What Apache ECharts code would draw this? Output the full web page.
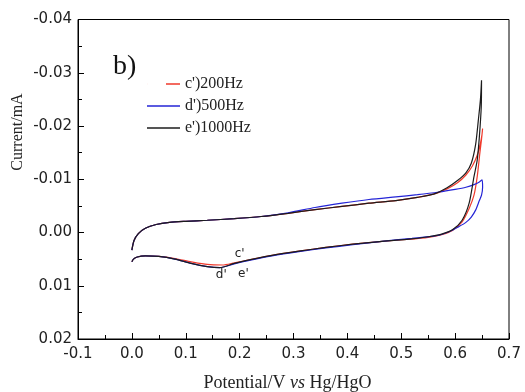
<!DOCTYPE html>
<html>
<head>
<meta charset="utf-8">
<script src="https://cdn.jsdelivr.net/npm/echarts@6/dist/echarts.min.js"></script>
<style>html,body{margin:0;padding:0;background:#fff}#c{width:525px;height:392px}</style>
</head>
<body>
<div id="c"></div>
<script>
// Potential (V vs Hg/HgO) and current (mA) for each frequency
const seriesNames = ["c')200Hz", "d')500Hz", "e')1000Hz"];

const xC = [0, 0.004, 0.012, 0.025, 0.045, 0.07, 0.1, 0.14, 0.19, 0.24, 0.29, 0.34, 0.39, 0.44, 0.49, 0.53, 0.56, 0.585, 0.605, 0.62, 0.632, 0.641, 0.647, 0.65, 0.651, 0.649, 0.646, 0.641, 0.635, 0.626, 0.613, 0.595, 0.575, 0.55, 0.51, 0.46, 0.41, 0.36, 0.31, 0.26, 0.22, 0.19, 0.168, 0.14, 0.11, 0.08, 0.05, 0.025, 0.01, 0.003, 0];
const yC = [0.0033, 0.0015, 0.0002, -0.0008, -0.0015, -0.0019, -0.0021, -0.0023, -0.0026, -0.003, -0.0036, -0.0043, -0.0049, -0.0055, -0.006, -0.0066, -0.0072, -0.0082, -0.0094, -0.0108, -0.0125, -0.0145, -0.0168, -0.0185, -0.0195, -0.0175, -0.015, -0.0105, -0.007, -0.0045, -0.002, -0.0004, 0.0004, 0.0009, 0.0013, 0.0017, 0.0022, 0.0028, 0.0035, 0.0043, 0.0051, 0.0057, 0.0061, 0.006, 0.0055, 0.0049, 0.0045, 0.0044, 0.0046, 0.005, 0.0055];

const xD = [0, 0.004, 0.012, 0.025, 0.045, 0.07, 0.1, 0.14, 0.19, 0.24, 0.29, 0.34, 0.39, 0.44, 0.49, 0.53, 0.57, 0.6, 0.62, 0.635, 0.645, 0.65, 0.651, 0.649, 0.645, 0.638, 0.63, 0.62, 0.607, 0.59, 0.565, 0.52, 0.46, 0.41, 0.36, 0.31, 0.26, 0.22, 0.19, 0.163, 0.14, 0.11, 0.08, 0.05, 0.025, 0.01, 0.003, 0];
const yD = [0.0033, 0.0015, 0.0002, -0.0008, -0.0015, -0.0019, -0.0021, -0.0023, -0.0026, -0.003, -0.0037, -0.0047, -0.0055, -0.0062, -0.0067, -0.0071, -0.0076, -0.0081, -0.0085, -0.009, -0.0095, -0.0099, -0.0085, -0.007, -0.006, -0.0042, -0.0029, -0.0019, -0.0011, -0.0002, 0.0006, 0.0011, 0.0017, 0.0023, 0.0029, 0.0036, 0.0044, 0.0052, 0.0059, 0.0066, 0.0064, 0.0058, 0.005, 0.0045, 0.0044, 0.0046, 0.005, 0.0055];

const xE = [0, 0.004, 0.012, 0.025, 0.045, 0.07, 0.1, 0.14, 0.19, 0.24, 0.29, 0.34, 0.39, 0.44, 0.49, 0.53, 0.56, 0.585, 0.605, 0.62, 0.63, 0.638, 0.643, 0.647, 0.649, 0.6485, 0.645, 0.641, 0.635, 0.626, 0.613, 0.595, 0.575, 0.55, 0.51, 0.46, 0.41, 0.36, 0.31, 0.26, 0.22, 0.19, 0.163, 0.14, 0.11, 0.08, 0.05, 0.025, 0.01, 0.003, 0];
const yE = [0.0033, 0.0015, 0.0002, -0.0008, -0.0015, -0.0019, -0.0021, -0.0023, -0.0026, -0.003, -0.0036, -0.0043, -0.0049, -0.0055, -0.006, -0.0066, -0.0072, -0.0084, -0.0098, -0.0112, -0.013, -0.0165, -0.021, -0.025, -0.0286, -0.0236, -0.018, -0.0136, -0.0105, -0.0055, -0.0023, -0.0005, 0.0003, 0.0008, 0.0013, 0.0017, 0.0022, 0.0028, 0.0035, 0.0043, 0.0051, 0.0058, 0.0066, 0.0064, 0.0058, 0.005, 0.0045, 0.0044, 0.0046, 0.005, 0.0055];

// Axis ranges and ticks
const xMin = -0.1, xMax = 0.7, xStep = 0.1;
const yMin = -0.04, yMax = 0.02, yStep = 0.01;

// curve tags (data coords)
const tagText = ["c'", "d'", "e'"];
const tagPos = [[0.2, 0.004], [0.166, 0.008], [0.207, 0.0078]];

const colors = ['#f03a2c', '#2424d6', '#1c1c1c'];
const pairs = (xs, ys) => xs.map((v, i) => [v, ys[i]]);

const chart = echarts.init(document.getElementById('c'), null, {renderer: 'canvas'});
const lblFont = 'DejaVu Sans';
const serif = 'Liberation Serif';

const mk = (name, xs, ys, col) => ({
  name: name, type: 'line', data: pairs(xs, ys), smooth: 0.25,
  symbol: 'none', showSymbol: false,
  lineStyle: {color: col, width: 1.2}, itemStyle: {color: col},
  animation: false
});

chart.setOption({
  animation: false,
  backgroundColor: '#fff',
  grid: {left: 78, right: 16, top: 19.5, bottom: 53, show: true, borderColor: '#000', borderWidth: 1,
    containLabel: false, outerBoundsMode: 'none'},
  xAxis: {
    type: 'value', min: xMin, max: xMax, interval: xStep,
    axisLine: {show: true, onZero: false, lineStyle: {color: '#000', width: 1}},
    axisTick: {show: true, inside: true, length: 6, lineStyle: {color: '#000'}},
    minorTick: {show: true, splitNumber: 2, length: 4, lineStyle: {color: '#000'}},
    splitLine: {show: false},
    axisLabel: {margin: 8, fontFamily: lblFont, fontSize: 15, color: '#222',
      formatter: v => v.toFixed(1)},
    name: 'Potential/V {i|vs} Hg/HgO', nameLocation: 'middle', nameGap: 35,
    nameTextStyle: {fontFamily: serif, fontSize: 18, color: '#222', padding: [0, 12, 0, 0],
      rich: {i: {fontFamily: serif, fontSize: 18, fontStyle: 'italic', color: '#222'}}}
  },
  yAxis: {
    type: 'value', min: yMin, max: yMax, interval: yStep, inverse: true,
    axisLine: {show: true, onZero: false, lineStyle: {color: '#000', width: 1}},
    axisTick: {show: true, inside: true, length: 6, lineStyle: {color: '#000'}},
    minorTick: {show: true, splitNumber: 2, length: 4, lineStyle: {color: '#000'}},
    splitLine: {show: false},
    axisLabel: {margin: 6, fontFamily: lblFont, fontSize: 15, color: '#222',
      formatter: v => v.toFixed(2)}
  },
  legend: {
    orient: 'vertical', left: 147, top: 76, padding: 0, itemWidth: 33, itemHeight: 14, itemGap: 6,
    textStyle: {fontFamily: serif, fontSize: 16, color: '#222'},
    data: [
      {name: seriesNames[0], icon: 'path://M19,0H33V1.4H19Z M0,0H0.05V1.4H0Z'},
      {name: seriesNames[1], icon: 'path://M0,0H33V1.4H0Z'},
      {name: seriesNames[2], icon: 'path://M0,0H33V1.4H0Z'}
    ]
  },
  series: [
    mk(seriesNames[0], xC, yC, colors[0]),
    mk(seriesNames[1], xD, yD, colors[1]),
    mk(seriesNames[2], xE, yE, colors[2])
  ]
});

const g = [
  {type: 'text', left: 113, top: 53, style: {text: 'b)', font: '28px "Liberation Serif"', fill: '#111'}},
  {type: 'text', x: 18, y: 132, rotation: Math.PI / 2,
    style: {text: 'Current/mA', font: '16px "Liberation Serif"', fill: '#222', align: 'center', verticalAlign: 'middle'}}
];
tagPos.forEach((p, i) => {
  const px = chart.convertToPixel({gridIndex: 0}, p);
  g.push({type: 'text', x: px[0], y: px[1],
    style: {text: tagText[i], font: '12px "DejaVu Sans"', fill: '#222', align: 'center', verticalAlign: 'middle'}});
});
chart.setOption({graphic: g});
</script>
</body>
</html>
